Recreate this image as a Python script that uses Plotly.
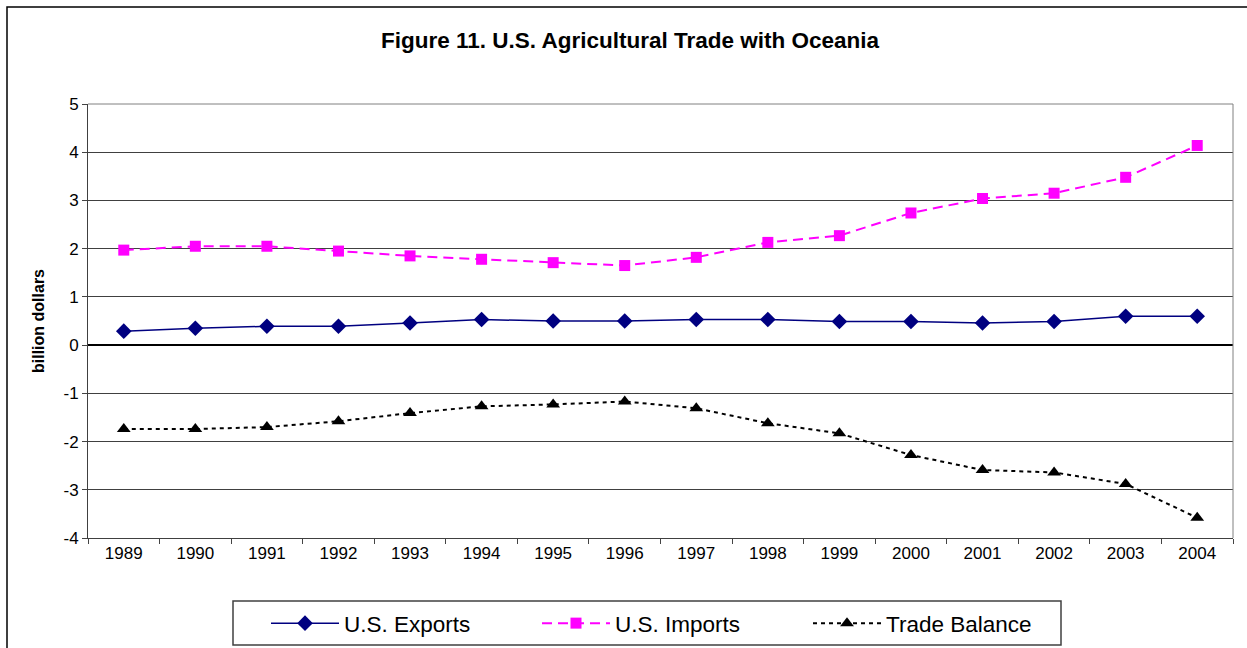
import plotly.graph_objects as go

years = ["1989", "1990", "1991", "1992", "1993", "1994", "1995", "1996",
         "1997", "1998", "1999", "2000", "2001", "2002", "2003", "2004"]
exports = [0.29, 0.35, 0.39, 0.39, 0.46, 0.53, 0.50, 0.50,
           0.53, 0.53, 0.49, 0.49, 0.46, 0.49, 0.60, 0.60]
imports = [1.97, 2.05, 2.05, 1.95, 1.85, 1.78, 1.71, 1.65,
           1.82, 2.13, 2.27, 2.74, 3.04, 3.15, 3.48, 4.14]
balance = [-1.74, -1.74, -1.70, -1.58, -1.41, -1.27, -1.23, -1.17,
           -1.31, -1.62, -1.83, -2.28, -2.59, -2.64, -2.88, -3.58]
y_tick_vals = [5, 4, 3, 2, 1, 0, -1, -2, -3, -4]
y_tick_text = ["5", "4", "3", "2", "1", "0", "-1", "-2", "-3", "-4"]

W, H = 1247, 664
L, R, T = 88, 14, 104
B = H - 538
pw, ph = W - L - R, H - T - B

def px(x):
    return (x - L) / pw

def py(y):
    return (H - B - y) / ph

fig = go.Figure()
fig.add_trace(go.Scatter(x=years, y=exports, name="U.S. Exports", mode="lines+markers",
                         line=dict(color="#000080", width=1.5),
                         marker=dict(symbol="diamond", size=12, color="#000080")))
fig.add_trace(go.Scatter(x=years, y=imports, name="U.S. Imports", mode="lines+markers",
                         line=dict(color="#FF00FF", width=2, dash="10px,6px"),
                         marker=dict(symbol="square", size=11, color="#FF00FF")))
fig.add_trace(go.Scatter(x=years, y=balance, name="Trade Balance", mode="lines+markers",
                         line=dict(color="#000000", width=2, dash="4px,4px"),
                         marker=dict(symbol="triangle-up", size=12, color="#000000")))

fig.update_layout(
    width=W, height=H,
    margin=dict(l=L, r=R, t=T, b=B),
    paper_bgcolor="white", plot_bgcolor="white",
    font=dict(family="Liberation Sans, Arial, sans-serif", size=17, color="black"),
    title=dict(text="<b>Figure 11. U.S. Agricultural Trade with Oceania</b>",
               x=px(630), xanchor="center", xref="paper", y=1 - 40 / H, yanchor="middle",
               font=dict(size=22.5, color="black")),
    xaxis=dict(type="category", showgrid=False, ticks="outside", ticklen=5,
               tickson="boundaries", showline=True, linecolor="#404040", linewidth=1,
               mirror=False, tickfont=dict(size=17), range=[-0.5, 15.5]),
    yaxis=dict(range=[-4, 5], tickmode="array", tickvals=y_tick_vals, ticktext=y_tick_text,
               showgrid=True, gridcolor="#404040", gridwidth=1,
               zeroline=True, zerolinecolor="black", zerolinewidth=1.5,
               ticks="outside", ticklen=5, showline=True, linecolor="#404040",
               tickfont=dict(size=17),
               title=dict(text="<b>billion dollars</b>", font=dict(size=16), standoff=14)),
    legend=dict(orientation="h", x=px(266), xanchor="left", y=py(602), yanchor="top",
                borderwidth=0, font=dict(size=22.5),
                entrywidth=188, entrywidthmode="pixels", itemwidth=68,
                bgcolor="rgba(0,0,0,0)"),
    showlegend=True,
)

# plot area borders, legend box and outer chart frame
fig.add_shape(type="line", xref="paper", yref="paper", x0=1, x1=1, y0=0, y1=1,
              line=dict(color="#808080", width=1))
fig.add_shape(type="line", xref="paper", yref="paper", x0=0, x1=1, y0=1, y1=1,
              line=dict(color="#808080", width=1))
fig.add_shape(type="rect", xref="paper", yref="paper",
              x0=px(233), x1=px(1061), y0=py(645), y1=py(601),
              line=dict(color="#404040", width=1.5), layer="below")
fig.add_shape(type="rect", xref="paper", yref="paper",
              x0=px(7), x1=px(1252), y0=py(H + 5), y1=py(7),
              line=dict(color="black", width=1.5), layer="below")

fig.write_html("out.html", config={"displayModeBar": False},
               post_script="document.body.style.margin='0px';"
                           "document.body.style.overflow='hidden';"
                           "document.documentElement.style.overflow='hidden';")
